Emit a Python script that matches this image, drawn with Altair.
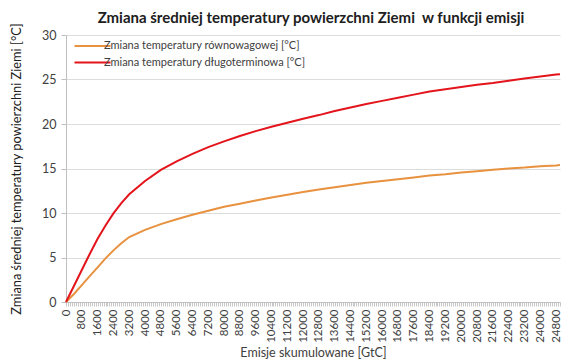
import altair as alt
import pandas as pd

# Emisje skumulowane [GtC]
emissions = [0, 400, 800, 1200, 1600, 2000, 2400, 2800, 3200,
             4000, 4800, 5600, 6400, 7200, 8000, 8800, 9600, 10400, 11200,
             12000, 12800, 13600, 14400, 15200, 16000, 16800, 17600, 18400,
             19200, 20000, 20800, 21600, 22400, 23200, 24000, 24800, 25000]

# Zmiana temperatury równowagowej [°C]
t_equilibrium = [0, 0.9, 1.9, 2.9, 3.9, 4.9, 5.8, 6.6, 7.3,
                 8.1, 8.75, 9.3, 9.8, 10.25, 10.7, 11.05, 11.4, 11.75, 12.05,
                 12.35, 12.65, 12.9, 13.15, 13.4, 13.6, 13.8, 14.0, 14.2,
                 14.35, 14.55, 14.7, 14.85, 15.0, 15.1, 15.25, 15.35, 15.4]

# Zmiana temperatury długoterminowa [°C]
t_longterm = [0, 1.8, 3.6, 5.4, 7.1, 8.6, 9.95, 11.1, 12.1,
              13.6, 14.85, 15.8, 16.65, 17.4, 18.05, 18.65, 19.2, 19.7, 20.15,
              20.6, 21.0, 21.45, 21.85, 22.25, 22.6, 22.95, 23.3, 23.65,
              23.9, 24.15, 24.4, 24.6, 24.85, 25.1, 25.35, 25.55, 25.6]

series_names = ["Zmiana temperatury równowagowej [°C]",
                "Zmiana temperatury długoterminowa [°C]"]
series_colors = ["#E8913F", "#E3141B"]

y_ticks = [0, 5, 10, 15, 20, 25, 30]
x_tick_values = list(range(0, 25001, 100))

rows = []
for e, a, b in zip(emissions, t_equilibrium, t_longterm):
    rows.append({"emisje": e, "seria": series_names[0], "temp": a})
    rows.append({"emisje": e, "seria": series_names[1], "temp": b})
df = pd.DataFrame(rows)

FONT = "Lato"

chart = alt.Chart(df).mark_line(strokeWidth=2).encode(
    x=alt.X("emisje:Q",
            scale=alt.Scale(domain=[0, 25000], nice=False, zero=True),
            axis=alt.Axis(
                title="Emisje skumulowane [GtC]",
                values=x_tick_values,
                labelExpr="datum.value % 800 == 0 ? datum.label : ''",
                format="d",
                labelAngle=270,
                labelOverlap=False,
                labelFontSize=11.5,
                labelColor="#404040",
                labelFont=FONT,
                labelPadding=3,
                tickColor="#c8c8c8",
                tickSize=4,
                domainColor="#bfbfbf",
                grid=False,
                titleFont=FONT,
                titleFontSize=12.5,
                titleFontWeight="normal",
                titleColor="#404040",
                titlePadding=4,
            )),
    y=alt.Y("temp:Q",
            scale=alt.Scale(domain=[0, 30], nice=False),
            axis=alt.Axis(
                title="Zmiana średniej temperatury powierzchni Ziemi [°C]",
                values=y_ticks,
                labelFontSize=12.5,
                labelColor="#404040",
                labelFont=FONT,
                labelPadding=5,
                tickColor="#bfbfbf",
                tickSize=5,
                domainColor="#bfbfbf",
                grid=True,
                gridColor="#dcdcdc",
                titleFont=FONT,
                titleFontSize=12.8,
                titleFontWeight="normal",
                titleColor="#202020",
                titlePadding=18,
            )),
    color=alt.Color("seria:N",
                    scale=alt.Scale(domain=series_names, range=series_colors),
                    legend=alt.Legend(
                        title=None,
                        orient="none",
                        legendX=16,
                        legendY=1,
                        symbolType="M-2,0L2,0",
                        symbolSize=324,
                        symbolStrokeWidth=2,
                        labelFont=FONT,
                        labelFontSize=11,
                        labelColor="#404040",
                        labelOffset=1,
                        labelLimit=0,
                        rowPadding=1,
                    )),
    strokeWidth=alt.StrokeWidth("seria:N",
                                scale=alt.Scale(domain=series_names, range=[1.8, 2.2]),
                                legend=None),
).properties(
    width=494,
    height=267,
    title=alt.TitleParams(
        "Zmiana średniej temperatury powierzchni Ziemi\u00a0 w funkcji emisji",
        font=FONT, fontSize=15, fontWeight="bold", color="#202020",
        offset=-3, dx=-2,
    ),
    autosize=alt.AutoSizeParams(type="none"),
    padding={"left": 58, "top": 27, "right": 2, "bottom": 58},
).configure_view(stroke=None)

chart.save("out.html", embed_options={"renderer": "svg", "actions": False})
